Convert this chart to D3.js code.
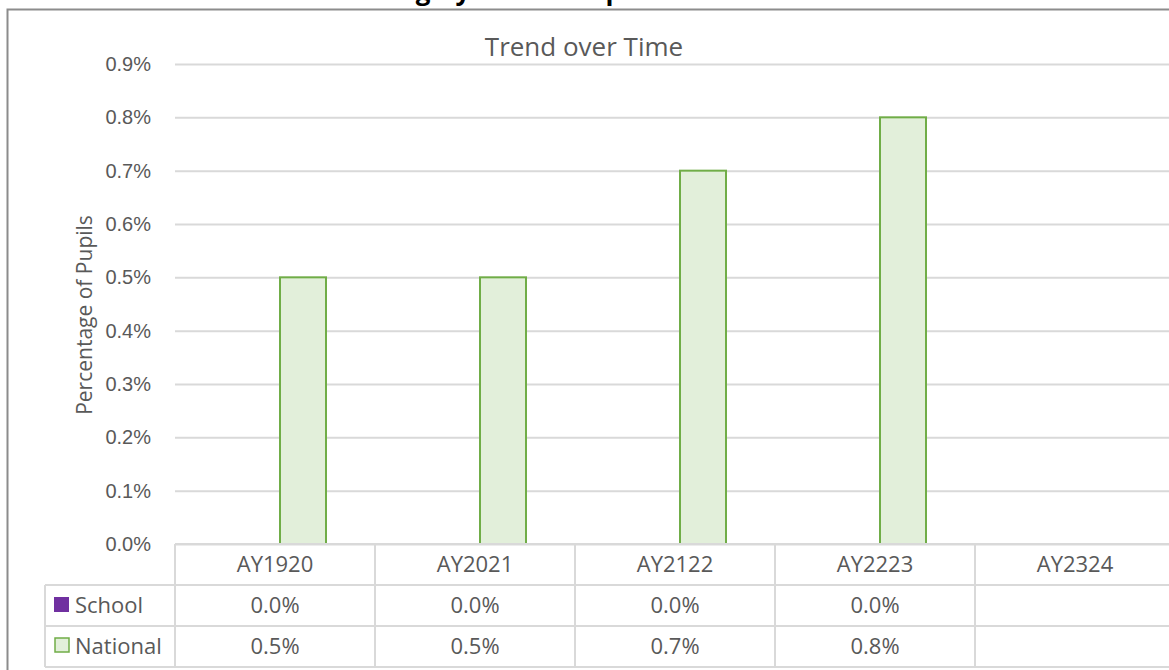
<!DOCTYPE html>
<html>
<head>
<meta charset="utf-8">
<script src="https://cdn.jsdelivr.net/npm/d3@7"></script>
<style>
  body { margin: 0; background: #fff; }
  svg { display: block; font-family: "Open Sans", Lato, sans-serif; }
</style>
</head>
<body>
<div id="chart"></div>
<script>
const years = ["AY1920", "AY2021", "AY2122", "AY2223", "AY2324"];
const seriesNames = ["School", "National"];
const schoolValues = [0.0, 0.0, 0.0, 0.0, null];
const nationalValues = [0.5, 0.5, 0.7, 0.8, null];
const yTicks = [0, 0.1, 0.2, 0.3, 0.4, 0.5, 0.6, 0.7, 0.8, 0.9];

const width = 1169,
    height = 670,
    margin = ({ top: 64, right: -6, bottom: 126, left: 175 });

const colors = { School: "#7030a0", National: "#e2efda" };
const strokes = { School: "#7030a0", National: "#70ad47" };
const textColor = "#595959";
const gridColor = "#d9d9d9";

const svg = d3.select("#chart")
  .append("svg")
  .attr("width", width)
  .attr("height", height)
  .attr("viewBox", [0, 0, width, height]);

// sheet title, cut off at the top of the picture (only descenders show)
svg.append("text")
  .attr("x", 388)
  .attr("y", 0)
  .attr("font-weight", "bold")
  .attr("font-size", 26)
  .attr("fill", "#000")
  .text("Highly Mobile Pupils at this School");

// outer chart frame
svg.append("path")
  .attr("d", `M7.5,${height} V9.5 H${width}`)
  .attr("fill", "none")
  .attr("stroke", "#8c8c8c")
  .attr("stroke-width", 2);

let x = d3.scaleBand()
  .domain(years)
  .range([margin.left, margin.left + 200 * years.length]);

let y = d3.scaleLinear()
  .domain([0, 0.9])
  .range([height - margin.bottom, margin.top]);

// bars sit a little right of band centre, as in the original
let x1 = d3.scaleBand()
  .domain(seriesNames)
  .range([x.bandwidth() / 2 - 41, x.bandwidth() / 2 + 51]);

// gridlines + y ticks
svg.append("g")
  .attr("transform", `translate(${margin.left},0)`)
  .attr("class", "y-axis")
  .call(d3.axisLeft(y)
    .tickValues(yTicks)
    .tickFormat(d => d3.format(".1f")(d) + "%")
    .tickSize(-(width - margin.left))
    .tickPadding(24)
  )
  .call(g => g.select(".domain").remove())
  .call(g => g.selectAll(".tick line").attr("stroke", gridColor).attr("stroke-width", 2))
  .call(g => g.selectAll(".tick text")
    .attr("fill", textColor)
    .attr("font-size", 20));

svg.append("text")
  .attr("text-anchor", "middle")
  .attr("transform", `translate(92,${(y(0) + y(0.9)) / 2 + 11}) rotate(-90)`)
  .attr("fill", textColor)
  .attr("font-size", 21)
  .text("Percentage of Pupils");

svg.append("text")
  .attr("x", 584)
  .attr("y", 56)
  .attr("text-anchor", "middle")
  .attr("fill", textColor)
  .attr("font-size", 26)
  .text("Trend over Time");

// bars
const rows = years.map((yr, i) => ({ year: yr, School: schoolValues[i], National: nationalValues[i] }));

svg.append("g")
  .selectAll("g")
  .data(rows)
  .join("g")
  .attr("transform", d => `translate(${x(d.year)},0)`)
  .selectAll("rect")
  .data(d => seriesNames.filter(s => d[s] !== null && d[s] > 0).map(s => ({ key: s, value: d[s] })))
  .join("rect")
  .attr("x", d => x1(d.key))
  .attr("width", x1.bandwidth())
  .attr("y", d => y(d.value))
  .attr("height", d => y(0) - y(d.value))
  .attr("fill", d => colors[d.key])
  .attr("stroke", d => strokes[d.key])
  .attr("stroke-width", 2);

// data table below the axis
const rowH = 41;
const tableTop = y(0);
const legendLeft = 45;
const table = svg.append("g").attr("class", "data-table");
const lineAttrs = sel => sel.attr("stroke", gridColor).attr("stroke-width", 2);

// horizontal lines
table.append("line").attr("x1", margin.left).attr("x2", width).attr("y1", tableTop).attr("y2", tableTop).call(lineAttrs);
for (let r = 1; r <= 3; r++) {
  table.append("line")
    .attr("x1", legendLeft).attr("x2", width)
    .attr("y1", tableTop + r * rowH).attr("y2", tableTop + r * rowH)
    .call(lineAttrs);
}
// vertical lines
table.append("line").attr("x1", legendLeft).attr("x2", legendLeft)
  .attr("y1", tableTop + rowH).attr("y2", tableTop + 3 * rowH).call(lineAttrs);
years.forEach(yr => {
  table.append("line").attr("x1", x(yr)).attr("x2", x(yr))
    .attr("y1", tableTop).attr("y2", tableTop + 3 * rowH).call(lineAttrs);
});

// header: categories
table.selectAll(".cat")
  .data(years)
  .join("text")
  .attr("class", "cat")
  .attr("x", d => x(d) + x.bandwidth() / 2)
  .attr("y", tableTop + 28)
  .attr("text-anchor", "middle")
  .attr("fill", textColor)
  .attr("font-size", 22)
  .text(d => d);

// series rows
seriesNames.forEach((s, si) => {
  const values = s === "School" ? schoolValues : nationalValues;
  const rowTop = tableTop + rowH * (si + 1);
  table.append("rect")
    .attr("x", s === "National" ? 55 : 54).attr("y", rowTop + 12)
    .attr("width", s === "National" ? 14 : 15).attr("height", s === "National" ? 14 : 15)
    .attr("fill", colors[s])
    .attr("stroke", strokes[s])
    .attr("stroke-width", s === "National" ? 1.5 : 0);
  table.append("text")
    .attr("x", 75).attr("y", rowTop + 28)
    .attr("fill", textColor)
    .attr("font-size", 22)
    .text(s);
  table.selectAll(".v" + si)
    .data(years.map((yr, i) => ({ year: yr, value: values[i] })).filter(d => d.value !== null))
    .join("text")
    .attr("x", d => x(d.year) + x.bandwidth() / 2)
    .attr("y", rowTop + 28)
    .attr("text-anchor", "middle")
    .attr("fill", textColor)
    .attr("font-size", 22)
    .text(d => d3.format(".1f")(d.value) + "%");
});
</script>
</body>
</html>
